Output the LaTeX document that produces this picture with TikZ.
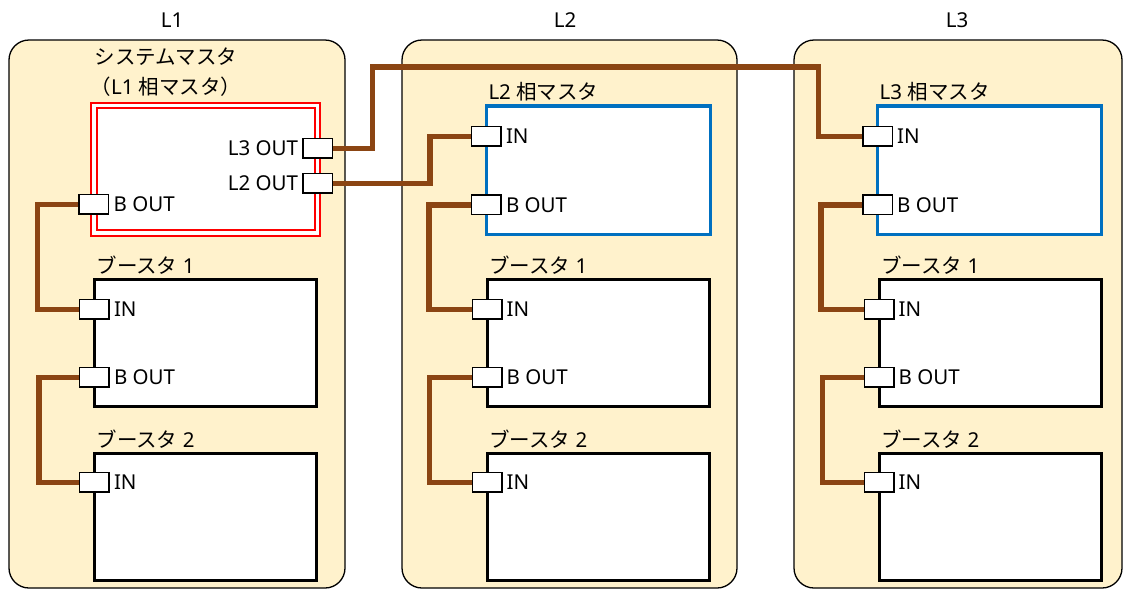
\documentclass[tikz,border=0pt]{standalone}
\usepackage{fontspec}
\setmainfont{Noto Sans}
\newfontfamily\jp{Noto Sans CJK JP}
\usetikzlibrary{positioning}

\definecolor{panelFill}{HTML}{FFF2CC}
\definecolor{cableBrown}{HTML}{8B4513}
\definecolor{phaseBlue}{HTML}{0070C0}
\newcommand{\figfont}{\fontsize{20.5}{30}\selectfont}

\begin{document}
\begin{tikzpicture}[
        x=1pt, y=-1pt,
        node distance = 3pt,
        % Box Styles
        panelBox/.style = {rectangle, draw, rounded corners=20pt, line width=1.3pt, fill=panelFill, minimum height=548pt},
        unitBox/.style = {rectangle, draw, line width=3pt, fill=white, minimum width=222pt, minimum height=127pt, inner sep=0pt, outer sep=0pt},
        masterBox/.style = {unitBox, draw=red, line width=1.8pt, double=white, double distance=3.5pt},
        phaseBox/.style = {unitBox, draw=phaseBlue, line width=3.5pt},
        portBox/.style = {rectangle, draw, line width=1.5pt, fill=white, minimum width=29.5pt, minimum height=19.5pt, inner sep=0pt},
        % Text Style
        plainText/.style = {font=\figfont, inner sep=1pt},
        % Cable Style
        cableLine/.style = {draw=cableBrown, line width=5.5pt}
    ]
    \useasboundingbox (0,0) rectangle (1124,590);

    % ==========================================
    % PHASE PANELS
    % ==========================================
    \node[panelBox, minimum width=336pt] (PanelL1) at (177,314) {};
    \node[panelBox, minimum width=335pt] (PanelL2) at (569.5,314) {};
    \node[panelBox, minimum width=328pt] (PanelL3) at (958,314) {};

    \node[plainText] (NameL1) at (172,20) {L1};
    \node[plainText] (NameL2) at (565,20) {L2};
    \node[plainText] (NameL3) at (957,20) {L3};

    % ==========================================
    % L1: SYSTEM MASTER + BOOSTERS
    % ==========================================
    \node[masterBox, minimum width=223.7pt, minimum height=127.5pt] (Sys) at (205.8,169.2) {};
    \node[plainText, align=center] (SysTitle) at (166,72) {{\jp システムマスタ}\\{\jp （}L1 {\jp 相マスタ）}};

    \node[portBox] (SysL3Out) at ([yshift=-43pt]Sys.north east) {};
    \node[portBox] (SysL2Out) at ([yshift=-78pt]Sys.north east) {};
    \node[portBox] (SysBOut) at ([yshift=-99pt]Sys.north west) {};
    \node[plainText, left=3pt of SysL3Out] (SysL3OutText) {L3 OUT};
    \node[plainText, left=3pt of SysL2Out] (SysL2OutText) {L2 OUT};
    \node[plainText, right=3pt of SysBOut] (SysBOutText) {B OUT};

    \node[unitBox] (BstA1) at (205.3,342.8) {};
    \node[unitBox] (BstA2) at (205.3,516.8) {};
    \node[plainText, anchor=west] (BstA1Title) at ([xshift=1pt, yshift=14pt]BstA1.north west) {{\jp ブースタ} 1};
    \node[plainText, anchor=west] (BstA2Title) at ([xshift=1pt, yshift=14pt]BstA2.north west) {{\jp ブースタ} 2};

    \node[portBox] (BstA1In) at ([yshift=-30pt]BstA1.north west) {};
    \node[portBox] (BstA1BOut) at ([yshift=-98pt]BstA1.north west) {};
    \node[portBox] (BstA2In) at ([yshift=-29pt]BstA2.north west) {};
    \node[plainText, right=3pt of BstA1In] (BstA1InText) {IN};
    \node[plainText, right=3pt of BstA1BOut] (BstA1BOutText) {B OUT};
    \node[plainText, right=3pt of BstA2In] (BstA2InText) {IN};

    \draw[cableLine] (SysBOut.west) -- ++(-41,0) |- (BstA1In.west);
    \draw[cableLine] (BstA1BOut.west) -- ++(-40,0) |- (BstA2In.west);

    % ==========================================
    % L2: PHASE MASTER + BOOSTERS
    % ==========================================
    \node[phaseBox, minimum width=224pt, minimum height=128.7pt] (PhL2) at (598.3,170.2) {};
    \node[plainText, anchor=west] (PhL2Title) at ([xshift=1pt, yshift=14pt]PhL2.north west) {L2 {\jp 相マスタ}};

    \node[portBox] (PhL2In) at ([yshift=-30.5pt]PhL2.north west) {};
    \node[portBox] (PhL2BOut) at ([yshift=-99pt]PhL2.north west) {};
    \node[plainText, right=3pt of PhL2In] (PhL2InText) {IN};
    \node[plainText, right=3pt of PhL2BOut] (PhL2BOutText) {B OUT};

    \node[unitBox] (BstB1) at (598,342.8) {};
    \node[unitBox] (BstB2) at (598,516.8) {};
    \node[plainText, anchor=west] (BstB1Title) at ([xshift=1pt, yshift=14pt]BstB1.north west) {{\jp ブースタ} 1};
    \node[plainText, anchor=west] (BstB2Title) at ([xshift=1pt, yshift=14pt]BstB2.north west) {{\jp ブースタ} 2};

    \node[portBox] (BstB1In) at ([yshift=-30pt]BstB1.north west) {};
    \node[portBox] (BstB1BOut) at ([yshift=-98pt]BstB1.north west) {};
    \node[portBox] (BstB2In) at ([yshift=-29pt]BstB2.north west) {};
    \node[plainText, right=3pt of BstB1In] (BstB1InText) {IN};
    \node[plainText, right=3pt of BstB1BOut] (BstB1BOutText) {B OUT};
    \node[plainText, right=3pt of BstB2In] (BstB2InText) {IN};

    \draw[cableLine] (PhL2BOut.west) -- ++(-42,0) |- (BstB1In.west);
    \draw[cableLine] (BstB1BOut.west) -- ++(-42,0) |- (BstB2In.west);

    % ==========================================
    % L3: PHASE MASTER + BOOSTERS
    % ==========================================
    \node[phaseBox, minimum width=224.2pt, minimum height=128.7pt] (PhL3) at (989.6,170.2) {};
    \node[plainText, anchor=west] (PhL3Title) at ([xshift=1pt, yshift=14pt]PhL3.north west) {L3 {\jp 相マスタ}};

    \node[portBox] (PhL3In) at ([yshift=-30.5pt]PhL3.north west) {};
    \node[portBox] (PhL3BOut) at ([yshift=-99pt]PhL3.north west) {};
    \node[plainText, right=3pt of PhL3In] (PhL3InText) {IN};
    \node[plainText, right=3pt of PhL3BOut] (PhL3BOutText) {B OUT};

    \node[unitBox] (BstC1) at (990,342.8) {};
    \node[unitBox] (BstC2) at (990,516.8) {};
    \node[plainText, anchor=west] (BstC1Title) at ([xshift=1pt, yshift=14pt]BstC1.north west) {{\jp ブースタ} 1};
    \node[plainText, anchor=west] (BstC2Title) at ([xshift=1pt, yshift=14pt]BstC2.north west) {{\jp ブースタ} 2};

    \node[portBox] (BstC1In) at ([yshift=-30pt]BstC1.north west) {};
    \node[portBox] (BstC1BOut) at ([yshift=-98pt]BstC1.north west) {};
    \node[portBox] (BstC2In) at ([yshift=-29pt]BstC2.north west) {};
    \node[plainText, right=3pt of BstC1In] (BstC1InText) {IN};
    \node[plainText, right=3pt of BstC1BOut] (BstC1BOutText) {B OUT};
    \node[plainText, right=3pt of BstC2In] (BstC2InText) {IN};

    \draw[cableLine] (PhL3BOut.west) -- ++(-41,0) |- (BstC1In.west);
    \draw[cableLine] (BstC1BOut.west) -- ++(-41,0) |- (BstC2In.west);

    % ==========================================
    % INTER-PANEL CABLES
    % ==========================================
    \coordinate (UpperBend) at (372.5,67);
    \coordinate (UpperDrop) at (818.5,67);
    \coordinate (LowerBend) at (430,160);

    \draw[cableLine] (SysL3Out.east) -| (UpperBend) -- (UpperDrop) |- (PhL3In.west);
    \draw[cableLine] (SysL2Out.east) -| (LowerBend) |- (PhL2In.west);

\end{tikzpicture}
\end{document}
